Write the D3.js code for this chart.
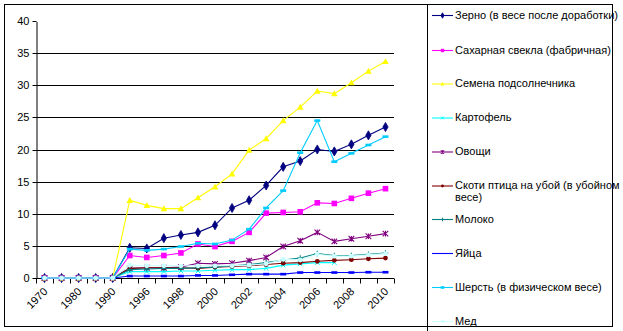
<!DOCTYPE html>
<html><head><meta charset="utf-8">
<script src="https://cdn.jsdelivr.net/npm/d3@7"></script>
<style>
html,body{margin:0;padding:0;background:#fff;}
svg{display:block;font-family:"Liberation Sans",Arial,sans-serif;}
</style></head>
<body><svg id="c" width="623" height="331"></svg>
<script>
const years = ["1970","1975","1980","1985","1990","1995","1996","1997","1998","1999","2000","2001","2002","2003","2004","2005","2006","2007","2008","2009","2010"];
const tickLabels = ["1970","1980","1990","1996","1998","2000","2002","2004","2006","2008","2010"];
const yTicks = [0,5,10,15,20,25,30,35,40];
const seriesNames = ["Зерно (в весе после доработки)","Сахарная свекла (фабричная)","Семена подсолнечника","Картофель","Овощи","Скоти птица на убой (в убойном|весе)","Молоко","Яйца","Шерсть (в физическом весе)","Мед"];
const grain     = [0,0,0,0,0, 4.7,4.6,6.2,6.7,7.1,8.2,10.9,12.1,14.4,17.3,18.2,20.0,19.7,20.8,22.2,23.5];
const sugarBeet = [0,0,0,0,0, 3.5,3.2,3.5,3.9,5.3,4.9,5.7,7.1,10.1,10.2,10.3,11.7,11.6,12.4,13.2,13.9];
const sunflower = [0,0,0,0,0, 12.1,11.3,10.8,10.8,12.5,14.2,16.2,19.9,21.7,24.5,26.6,29.1,28.7,30.4,32.2,33.7];
const potato    = [0,0,0,0,0, 1.0,1.0,1.0,1.1,1.1,1.2,1.3,1.3,1.5,2.0,2.2,2.4,2.4,null,null,null];
const vegetables= [0,0,0,0,0, 1.5,1.6,1.6,1.7,2.3,2.2,2.3,2.7,3.2,4.9,5.8,7.1,5.7,6.1,6.5,6.9];
const livestock = [0,0,0,0,0, 1.5,1.6,1.6,1.6,1.5,1.7,1.8,1.9,2.1,2.3,2.4,2.6,2.75,2.85,3.0,3.1];
const milk      = [0,0,0,0,0, 1.3,1.4,1.5,1.5,1.6,1.7,1.9,2.1,2.4,2.8,3.1,3.8,3.5,3.5,3.7,3.9];
const eggs      = [0,0,0,0,0, 0.3,0.3,0.3,0.3,0.4,0.4,0.5,0.6,0.6,0.6,0.85,0.85,0.85,0.85,0.9,0.9];
const wool      = [0,0,0,0,0, 4.5,4.3,4.5,4.9,5.4,5.3,5.9,7.6,10.9,13.6,19.5,24.5,18.1,19.4,20.7,22.0];
const honey     = [0,0,0,0,0, 2.0,1.9,1.9,1.9,1.9,1.9,1.9,2.0,2.2,2.9,2.8,3.7,3.4,3.4,3.6,3.8];

const seriesValues = [grain,sugarBeet,sunflower,potato,vegetables,livestock,milk,eggs,wool,honey];
const colors = ["#000080","#FF00FF","#FFFF00","#00FFFF","#800080","#800000","#008080","#0000FF","#00CCFF","#CCFFFF"];
const markers = ["diamond","square","triangle","x","star","circle","plus","dash","dash","circle"];
const legendMarkers = ["diamond","square","triangle","x","star","circle","plus","none","dash","circle"];

const svg = d3.select("#c");
const x = d3.scaleBand().domain(years).range([36,394]).paddingInner(0).paddingOuter(0);
const y = d3.scaleLinear().domain([0,40]).range([278,21]);
const cx = d => x(d) + x.bandwidth()/2;

// outer border
svg.append("rect").attr("x",4.5).attr("y",4.5).attr("width",608).attr("height",322).attr("fill","none").attr("stroke","#000");

// gridlines
svg.append("g").selectAll("line").data(yTicks.filter(t=>t>0 && t<40)).join("line")
  .attr("x1",36).attr("x2",394).attr("y1",d=>Math.round(y(d))+0.5).attr("y2",d=>Math.round(y(d))+0.5)
  .attr("stroke","#000").attr("stroke-width",1);

// y axis
const yAxis = d3.axisLeft(y).tickValues(yTicks).tickSize(4).tickSizeOuter(0).tickPadding(3);
const gy = svg.append("g").attr("transform","translate(36.5,0.5)").call(yAxis);
gy.selectAll("text").attr("font-size","11px").attr("fill","#000").attr("font-family","Liberation Sans, Arial, sans-serif");
gy.select(".domain").attr("stroke","#000");
gy.selectAll("line").attr("stroke","#000");
gy.selectAll(".tick").attr("transform",d=>`translate(0,${Math.round(y(d))})`);

// x axis
const gx = svg.append("g").attr("transform","translate(0,278.5)");
gx.append("line").attr("x1",36).attr("x2",394).attr("stroke","#000");
const bounds = years.map(d=>x(d)).concat([394]);
gx.selectAll("line.t").data(bounds).join("line").attr("class","t")
  .attr("x1",d=>Math.round(d)+0.5).attr("x2",d=>Math.round(d)+0.5).attr("y1",0).attr("y2",5).attr("stroke","#000");
gx.selectAll("text").data(tickLabels).join("text")
  .attr("transform",d=>`translate(${cx(d)+1},${11}) rotate(-45)`)
  .attr("text-anchor","end").attr("dy","0.35em")
  .attr("font-size","11px").attr("fill","#000").text(d=>d);

// marker drawing
function drawMarker(g, type, color, px, py, s) {
  s = s || 1;
  if (type==="diamond") {
    g.append("path").attr("d",d3.symbol().type(d3.symbolDiamond).size(24*s*s)()).attr("transform",`translate(${px},${py})`).attr("fill",color).attr("stroke",color).attr("stroke-width",0.8);
  } else if (type==="square") {
    g.append("rect").attr("x",px-2.8*s).attr("y",py-2.8*s).attr("width",5.6*s).attr("height",5.6*s).attr("fill",color);
  } else if (type==="triangle") {
    const r=3.3*s;
    g.append("path").attr("d",`M${px},${py-r}L${px+r},${py+r*0.8}L${px-r},${py+r*0.8}Z`).attr("fill",color);
  } else if (type==="x") {
    const r=2.3*s;
    g.append("path").attr("d",`M${px-r},${py-r}L${px+r},${py+r}M${px-r},${py+r}L${px+r},${py-r}`).attr("stroke",color).attr("stroke-width",1);
  } else if (type==="star") {
    const r=2.8*s;
    g.append("path").attr("d",`M${px-r},${py-r}L${px+r},${py+r}M${px-r},${py+r}L${px+r},${py-r}M${px},${py-r}L${px},${py+r}`).attr("stroke",color).attr("stroke-width",1.1);
  } else if (type==="circle") {
    g.append("circle").attr("cx",px).attr("cy",py).attr("r",2.4*s).attr("fill",color);
  } else if (type==="plus") {
    const r=2.8*s;
    g.append("path").attr("d",`M${px-r},${py}L${px+r},${py}M${px},${py-r}L${px},${py+r}`).attr("stroke",color).attr("stroke-width",1.1);
  } else if (type==="dash") {
    g.append("rect").attr("x",px-3*s).attr("y",py-1.3).attr("width",6*s).attr("height",2.6).attr("fill",color);
  }
}

const plot = svg.append("g");
const line = d3.line().defined(d=>d.v!=null).x(d=>cx(d.c)).y(d=>y(d.v));
seriesValues.forEach((vals,i)=>{
  const pts = years.map((c,j)=>({c, v: vals[j]}));
  const g = plot.append("g");
  g.append("path").datum(pts).attr("d",line).attr("fill","none").attr("stroke",colors[i]).attr("stroke-width",1.1);
  pts.filter(p=>p.v!=null).forEach(p=>drawMarker(g, markers[i], colors[i], cx(p.c), y(p.v), 1));
});

// legend
svg.append("line").attr("x1",427.5).attr("x2",427.5).attr("y1",4).attr("y2",331).attr("stroke","#000");
const legY = [15,50,83.5,117.5,151.5,185.5,219,253,287,321];
const lg = svg.append("g");
seriesNames.forEach((name,i)=>{
  const yy = legY[i];
  lg.append("line").attr("x1",432).attr("x2",453).attr("y1",yy+0.5).attr("y2",yy+0.5).attr("stroke",colors[i]).attr("stroke-width",1.1);
  drawMarker(lg, legendMarkers[i], colors[i], 442.5, yy+0.5, 0.6);
  const t = lg.append("text").attr("x",455).attr("y",yy).attr("font-size","11px").attr("fill","#000");
  name.split("|").forEach((part,k)=>{
    t.append("tspan").attr("x",455).attr("dy", k===0 ? "0.35em" : "12px").text(part);
  });
});
</script></body></html>
